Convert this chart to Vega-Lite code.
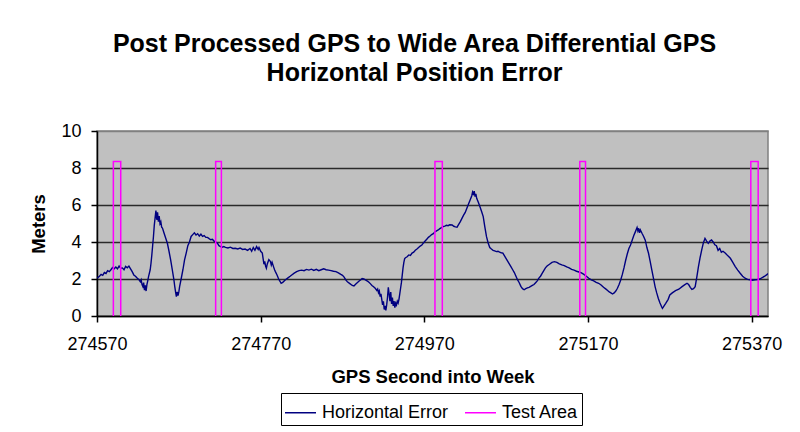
{
  "$schema": "https://vega.github.io/schema/vega-lite/v6.json",
  "width": 671,
  "height": 185,
  "autosize": {"type": "none"},
  "padding": {"left": 97, "top": 131, "right": 32, "bottom": 116},
  "background": "white",
  "title": {
    "text": ["Post Processed GPS to Wide Area Differential GPS", "Horizontal Position Error"],
    "font": "Liberation Sans",
    "fontSize": 25,
    "fontWeight": "bold",
    "lineHeight": 29,
    "color": "black",
    "anchor": "middle",
    "dx": -18,
    "offset": 36
  },
  "config": {
    "view": {"fill": "#c0c0c0", "stroke": "#808080", "strokeWidth": 1.5},
    "axis": {
      "labelFont": "Liberation Sans",
      "labelFontSize": 18,
      "labelColor": "black",
      "labelFlush": false,
      "titleFont": "Liberation Sans",
      "titleFontSize": 18.5,
      "titleFontWeight": "bold",
      "titleColor": "black",
      "domainColor": "black",
      "domainWidth": 1.5,
      "tickColor": "black",
      "tickWidth": 1.5,
      "tickSize": 6
    },
    "legend": {
      "labelFont": "Liberation Sans",
      "labelFontSize": 18,
      "labelColor": "black"
    }
  },
  "datasets": {
    "h": [
      {"x":274570,"y":2.04},{"x":274573,"y":2.15},{"x":274575,"y":2.25},{"x":274577,"y":2.2},{"x":274579,"y":2.35},{"x":274581,"y":2.3},{"x":274583,"y":2.45},{"x":274585,"y":2.4},{"x":274587,"y":2.5},{"x":274589,"y":2.62},{"x":274591,"y":2.55},{"x":274593,"y":2.65},{"x":274595,"y":2.55},{"x":274597,"y":2.7},{"x":274599,"y":2.58},{"x":274601,"y":2.6},{"x":274603,"y":2.5},{"x":274605,"y":2.68},{"x":274607,"y":2.61},{"x":274609,"y":2.7},{"x":274611,"y":2.55},{"x":274613,"y":2.4},{"x":274615,"y":2.22},{"x":274617,"y":2.15},{"x":274619,"y":2.05},{"x":274621,"y":1.98},{"x":274623,"y":1.85},{"x":274624,"y":1.95},{"x":274625,"y":1.7},{"x":274626,"y":1.6},{"x":274627,"y":1.8},{"x":274628,"y":1.4},{"x":274629,"y":1.65},{"x":274630,"y":1.35},{"x":274631,"y":1.7},{"x":274632,"y":1.9},{"x":274633,"y":2.13},{"x":274635,"y":2.5},{"x":274636,"y":2.85},{"x":274637,"y":3.3},{"x":274638,"y":3.8},{"x":274639,"y":4.3},{"x":274640,"y":4.9},{"x":274641,"y":5.3},{"x":274642,"y":5.7},{"x":274643,"y":5.2},{"x":274644,"y":5.6},{"x":274645,"y":5.1},{"x":274646,"y":5.4},{"x":274647,"y":5.0},{"x":274648,"y":5.1},{"x":274649,"y":4.8},{"x":274650,"y":4.75},{"x":274652,"y":4.47},{"x":274654,"y":4.2},{"x":274656,"y":3.93},{"x":274658,"y":3.5},{"x":274660,"y":3.03},{"x":274662,"y":2.5},{"x":274664,"y":1.95},{"x":274665,"y":1.6},{"x":274666,"y":1.3},{"x":274667,"y":1.05},{"x":274668,"y":1.3},{"x":274669,"y":1.1},{"x":274670,"y":1.3},{"x":274671,"y":1.6},{"x":274673,"y":2.04},{"x":274675,"y":2.5},{"x":274677,"y":3.03},{"x":274679,"y":3.4},{"x":274681,"y":3.8},{"x":274683,"y":4.0},{"x":274685,"y":4.3},{"x":274687,"y":4.4},{"x":274689,"y":4.5},{"x":274691,"y":4.38},{"x":274693,"y":4.45},{"x":274695,"y":4.32},{"x":274697,"y":4.42},{"x":274699,"y":4.3},{"x":274701,"y":4.35},{"x":274703,"y":4.25},{"x":274705,"y":4.25},{"x":274707,"y":4.18},{"x":274709,"y":4.12},{"x":274711,"y":4.15},{"x":274713,"y":4.05},{"x":274715,"y":4.0},{"x":274717,"y":3.95},{"x":274719,"y":3.8},{"x":274721,"y":3.75},{"x":274723,"y":3.72},{"x":274725,"y":3.75},{"x":274727,"y":3.71},{"x":274730,"y":3.68},{"x":274733,"y":3.72},{"x":274736,"y":3.65},{"x":274739,"y":3.66},{"x":274742,"y":3.62},{"x":274745,"y":3.67},{"x":274748,"y":3.6},{"x":274751,"y":3.62},{"x":274754,"y":3.55},{"x":274757,"y":3.65},{"x":274759,"y":3.5},{"x":274761,"y":3.7},{"x":274763,"y":3.55},{"x":274765,"y":3.75},{"x":274767,"y":3.6},{"x":274768,"y":3.7},{"x":274770,"y":3.5},{"x":274772,"y":3.4},{"x":274773,"y":3.1},{"x":274774,"y":2.8},{"x":274775,"y":2.95},{"x":274776,"y":2.7},{"x":274777,"y":2.58},{"x":274778,"y":2.8},{"x":274780,"y":3.05},{"x":274782,"y":2.94},{"x":274783,"y":2.75},{"x":274784,"y":2.9},{"x":274786,"y":2.63},{"x":274787,"y":2.5},{"x":274788,"y":2.4},{"x":274790,"y":2.22},{"x":274792,"y":2.0},{"x":274794,"y":1.85},{"x":274795,"y":1.77},{"x":274797,"y":1.82},{"x":274800,"y":1.95},{"x":274803,"y":2.05},{"x":274806,"y":2.15},{"x":274808,"y":2.22},{"x":274811,"y":2.32},{"x":274814,"y":2.4},{"x":274817,"y":2.45},{"x":274820,"y":2.48},{"x":274823,"y":2.45},{"x":274826,"y":2.52},{"x":274829,"y":2.48},{"x":274832,"y":2.53},{"x":274835,"y":2.46},{"x":274838,"y":2.52},{"x":274841,"y":2.45},{"x":274844,"y":2.5},{"x":274847,"y":2.55},{"x":274850,"y":2.5},{"x":274853,"y":2.48},{"x":274856,"y":2.45},{"x":274859,"y":2.42},{"x":274862,"y":2.4},{"x":274865,"y":2.33},{"x":274868,"y":2.25},{"x":274870,"y":2.2},{"x":274872,"y":2.1},{"x":274874,"y":1.95},{"x":274876,"y":1.85},{"x":274879,"y":1.75},{"x":274882,"y":1.65},{"x":274884,"y":1.62},{"x":274886,"y":1.72},{"x":274888,"y":1.8},{"x":274890,"y":1.88},{"x":274892,"y":1.95},{"x":274894,"y":2.02},{"x":274896,"y":2.0},{"x":274898,"y":1.95},{"x":274900,"y":1.9},{"x":274902,"y":1.84},{"x":274904,"y":1.75},{"x":274906,"y":1.65},{"x":274908,"y":1.58},{"x":274910,"y":1.5},{"x":274912,"y":1.38},{"x":274913,"y":1.45},{"x":274914,"y":1.25},{"x":274915,"y":1.35},{"x":274916,"y":1.05},{"x":274917,"y":1.2},{"x":274918,"y":0.9},{"x":274919,"y":0.6},{"x":274920,"y":0.8},{"x":274921,"y":0.35},{"x":274922,"y":0.55},{"x":274923,"y":0.3},{"x":274924,"y":0.6},{"x":274925,"y":1.0},{"x":274926,"y":1.55},{"x":274927,"y":1.2},{"x":274928,"y":0.8},{"x":274929,"y":1.3},{"x":274930,"y":0.65},{"x":274931,"y":1.0},{"x":274932,"y":0.55},{"x":274933,"y":0.8},{"x":274934,"y":0.45},{"x":274935,"y":0.7},{"x":274936,"y":0.6},{"x":274937,"y":0.8},{"x":274938,"y":0.7},{"x":274939,"y":0.9},{"x":274940,"y":1.2},{"x":274941,"y":1.5},{"x":274942,"y":1.8},{"x":274943,"y":2.2},{"x":274944,"y":2.6},{"x":274945,"y":2.9},{"x":274946,"y":3.1},{"x":274947,"y":3.15},{"x":274949,"y":3.2},{"x":274951,"y":3.3},{"x":274953,"y":3.27},{"x":274955,"y":3.4},{"x":274957,"y":3.45},{"x":274959,"y":3.55},{"x":274961,"y":3.62},{"x":274963,"y":3.7},{"x":274965,"y":3.78},{"x":274967,"y":3.84},{"x":274969,"y":3.95},{"x":274971,"y":4.05},{"x":274973,"y":4.15},{"x":274975,"y":4.25},{"x":274977,"y":4.32},{"x":274979,"y":4.4},{"x":274981,"y":4.45},{"x":274983,"y":4.55},{"x":274985,"y":4.6},{"x":274987,"y":4.65},{"x":274989,"y":4.72},{"x":274991,"y":4.78},{"x":274993,"y":4.83},{"x":274995,"y":4.86},{"x":274997,"y":4.9},{"x":274999,"y":4.88},{"x":275001,"y":4.93},{"x":275004,"y":4.92},{"x":275006,"y":4.85},{"x":275008,"y":4.82},{"x":275010,"y":4.8},{"x":275012,"y":4.95},{"x":275014,"y":5.1},{"x":275016,"y":5.28},{"x":275018,"y":5.45},{"x":275020,"y":5.6},{"x":275022,"y":5.82},{"x":275024,"y":6.05},{"x":275026,"y":6.27},{"x":275028,"y":6.5},{"x":275029,"y":6.7},{"x":275030,"y":6.6},{"x":275031,"y":6.75},{"x":275032,"y":6.45},{"x":275033,"y":6.6},{"x":275034,"y":6.36},{"x":275036,"y":6.15},{"x":275038,"y":5.91},{"x":275040,"y":5.65},{"x":275042,"y":5.37},{"x":275044,"y":4.8},{"x":275046,"y":4.29},{"x":275048,"y":3.95},{"x":275050,"y":3.7},{"x":275052,"y":3.62},{"x":275054,"y":3.55},{"x":275056,"y":3.52},{"x":275058,"y":3.48},{"x":275060,"y":3.5},{"x":275062,"y":3.45},{"x":275064,"y":3.42},{"x":275066,"y":3.4},{"x":275068,"y":3.25},{"x":275070,"y":3.1},{"x":275072,"y":2.95},{"x":275074,"y":2.8},{"x":275076,"y":2.65},{"x":275078,"y":2.5},{"x":275080,"y":2.35},{"x":275082,"y":2.15},{"x":275084,"y":1.95},{"x":275086,"y":1.8},{"x":275088,"y":1.6},{"x":275090,"y":1.48},{"x":275092,"y":1.42},{"x":275094,"y":1.48},{"x":275096,"y":1.52},{"x":275098,"y":1.55},{"x":275100,"y":1.6},{"x":275102,"y":1.65},{"x":275104,"y":1.7},{"x":275106,"y":1.8},{"x":275108,"y":1.9},{"x":275110,"y":2.05},{"x":275112,"y":2.15},{"x":275114,"y":2.3},{"x":275116,"y":2.45},{"x":275118,"y":2.6},{"x":275120,"y":2.7},{"x":275123,"y":2.8},{"x":275126,"y":2.9},{"x":275129,"y":2.94},{"x":275132,"y":2.9},{"x":275135,"y":2.82},{"x":275138,"y":2.76},{"x":275141,"y":2.72},{"x":275144,"y":2.65},{"x":275147,"y":2.6},{"x":275150,"y":2.52},{"x":275153,"y":2.48},{"x":275156,"y":2.42},{"x":275159,"y":2.38},{"x":275162,"y":2.33},{"x":275165,"y":2.25},{"x":275168,"y":2.15},{"x":275171,"y":2.04},{"x":275174,"y":1.95},{"x":275177,"y":1.9},{"x":275180,"y":1.82},{"x":275183,"y":1.77},{"x":275186,"y":1.68},{"x":275189,"y":1.55},{"x":275192,"y":1.45},{"x":275194,"y":1.38},{"x":275196,"y":1.3},{"x":275198,"y":1.25},{"x":275200,"y":1.19},{"x":275202,"y":1.25},{"x":275204,"y":1.35},{"x":275206,"y":1.5},{"x":275208,"y":1.7},{"x":275210,"y":1.95},{"x":275212,"y":2.25},{"x":275214,"y":2.6},{"x":275216,"y":3.0},{"x":275218,"y":3.35},{"x":275220,"y":3.65},{"x":275222,"y":3.84},{"x":275224,"y":4.1},{"x":275226,"y":4.35},{"x":275228,"y":4.56},{"x":275230,"y":4.78},{"x":275231,"y":4.6},{"x":275232,"y":4.74},{"x":275233,"y":4.5},{"x":275234,"y":4.65},{"x":275236,"y":4.47},{"x":275238,"y":4.3},{"x":275240,"y":4.1},{"x":275242,"y":3.7},{"x":275244,"y":3.39},{"x":275246,"y":2.95},{"x":275248,"y":2.49},{"x":275250,"y":2.05},{"x":275252,"y":1.59},{"x":275254,"y":1.25},{"x":275256,"y":0.95},{"x":275258,"y":0.7},{"x":275260,"y":0.5},{"x":275261,"y":0.41},{"x":275263,"y":0.55},{"x":275265,"y":0.68},{"x":275268,"y":0.9},{"x":275270,"y":1.14},{"x":275273,"y":1.25},{"x":275277,"y":1.37},{"x":275281,"y":1.45},{"x":275285,"y":1.59},{"x":275288,"y":1.68},{"x":275291,"y":1.77},{"x":275293,"y":1.7},{"x":275295,"y":1.55},{"x":275297,"y":1.44},{"x":275299,"y":1.48},{"x":275301,"y":1.59},{"x":275303,"y":2.1},{"x":275305,"y":2.67},{"x":275307,"y":3.15},{"x":275309,"y":3.57},{"x":275311,"y":3.95},{"x":275313,"y":4.2},{"x":275315,"y":4.05},{"x":275317,"y":3.93},{"x":275319,"y":4.05},{"x":275321,"y":4.11},{"x":275323,"y":4.0},{"x":275325,"y":3.85},{"x":275327,"y":3.8},{"x":275329,"y":3.55},{"x":275331,"y":3.65},{"x":275333,"y":3.45},{"x":275335,"y":3.5},{"x":275338,"y":3.39},{"x":275341,"y":3.25},{"x":275344,"y":3.12},{"x":275347,"y":2.9},{"x":275350,"y":2.67},{"x":275353,"y":2.48},{"x":275356,"y":2.31},{"x":275359,"y":2.15},{"x":275362,"y":2.04},{"x":275365,"y":1.98},{"x":275368,"y":1.95},{"x":275371,"y":1.93},{"x":275374,"y":1.96},{"x":275377,"y":1.97},{"x":275380,"y":2.0},{"x":275383,"y":2.08},{"x":275386,"y":2.15},{"x":275389,"y":2.25},{"x":275390,"y":2.3}
    ],
    "t": [
      {"r":1,"i":0,"x":274590,"y":0},{"r":1,"i":1,"x":274590,"y":8.35},{"r":1,"i":2,"x":274599,"y":8.35},{"r":1,"i":3,"x":274599,"y":0},
      {"r":2,"i":0,"x":274715,"y":0},{"r":2,"i":1,"x":274715,"y":8.35},{"r":2,"i":2,"x":274722,"y":8.35},{"r":2,"i":3,"x":274722,"y":0},
      {"r":3,"i":0,"x":274983,"y":0},{"r":3,"i":1,"x":274983,"y":8.35},{"r":3,"i":2,"x":274992,"y":8.35},{"r":3,"i":3,"x":274992,"y":0},
      {"r":4,"i":0,"x":275160,"y":0},{"r":4,"i":1,"x":275160,"y":8.35},{"r":4,"i":2,"x":275167,"y":8.35},{"r":4,"i":3,"x":275167,"y":0},
      {"r":5,"i":0,"x":275369,"y":0},{"r":5,"i":1,"x":275369,"y":8.35},{"r":5,"i":2,"x":275378,"y":8.35},{"r":5,"i":3,"x":275378,"y":0}
    ]
  },
  "encoding": {
    "x": {
      "field": "x", "type": "quantitative",
      "scale": {"domain": [274570, 275390], "nice": false, "zero": false},
      "axis": {
        "title": "GPS Second into Week",
        "values": [274570, 274770, 274970, 275170, 275370],
        "format": "d",
        "grid": false,
        "labelPadding": 13,
        "titlePadding": 14
      }
    },
    "y": {
      "field": "y", "type": "quantitative",
      "scale": {"domain": [0, 10], "nice": false},
      "axis": {
        "title": "Meters",
        "values": [0, 2, 4, 6, 8, 10],
        "grid": true,
        "gridColor": {"condition": {"test": "datum.value === 10", "value": "#808080"}, "value": "#2a2a2a"},
        "gridWidth": 1.5,
        "labelPadding": 10,
        "titlePadding": 12
      }
    }
  },
  "layer": [
    {
      "data": {"name": "h"},
      "mark": {"type": "line", "strokeWidth": 1.4, "clip": true},
      "encoding": {
        "color": {
          "datum": "Horizontal Error",
          "scale": {"domain": ["Horizontal Error", "Test Area"], "range": ["#000080", "#ff00ff"]},
          "legend": {
            "title": null,
            "orient": "none",
            "legendX": 184,
            "legendY": 262,
            "direction": "horizontal",
            "symbolType": "stroke",
            "symbolSize": 961,
            "symbolStrokeWidth": 1.5,
            "strokeColor": "black",
            "fillColor": "white",
            "padding": 3,
            "columnPadding": 13,
            "labelOffset": 5
          }
        }
      }
    },
    {
      "data": {"name": "t"},
      "mark": {"type": "line", "strokeWidth": 1.5},
      "encoding": {
        "color": {"datum": "Test Area"},
        "detail": {"field": "r", "type": "nominal"},
        "order": {"field": "i", "type": "quantitative"}
      }
    }
  ]
}
